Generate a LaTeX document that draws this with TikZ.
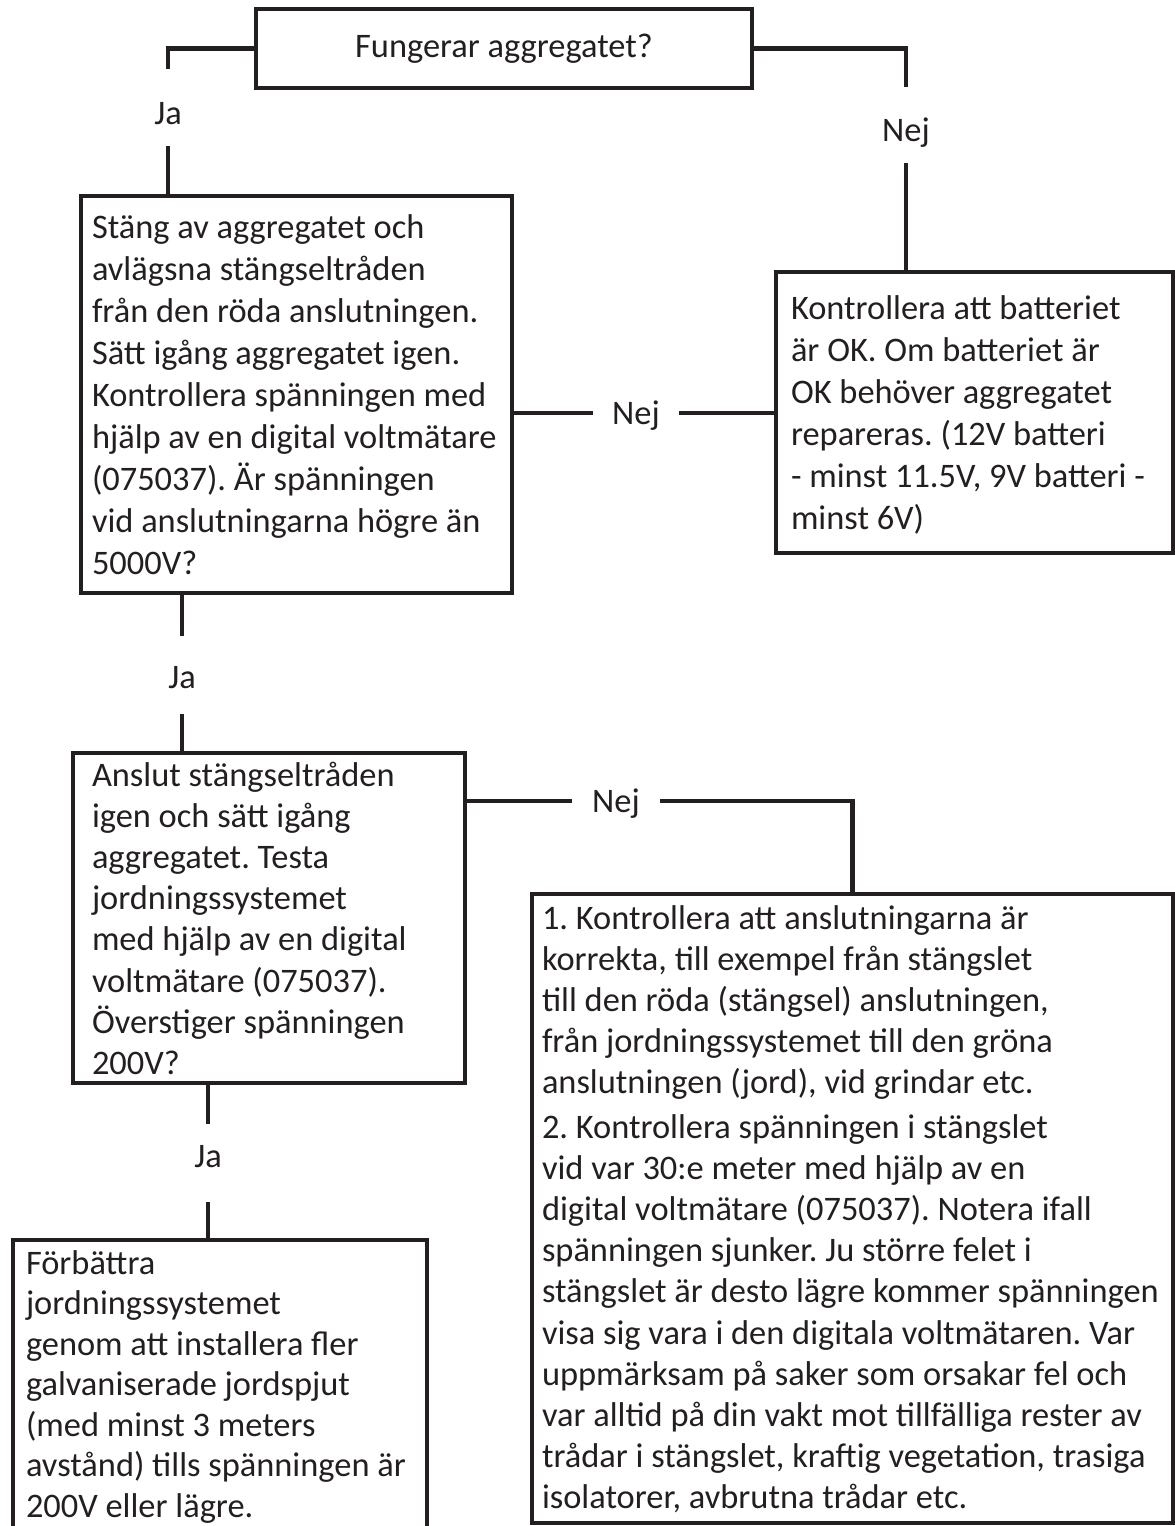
\documentclass[tikz,border=0pt]{standalone}
\usepackage{fontspec}
\setmainfont{Carlito}
\definecolor{ink}{HTML}{231F20}
\frenchspacing
\begin{document}
\frenchspacing
\begin{tikzpicture}[x=1pt,y=-1pt,
  every node/.style={text=ink},
  conn/.style={draw=ink,line width=4.6pt},
  box/.style={draw=ink,line width=4.8pt,inner sep=0pt,outer sep=0pt,anchor=north west},
  txt/.style={inner sep=0pt,outer sep=0pt,anchor=base west,align=left},
  vlab/.style={inner sep=0pt,outer sep=0pt,anchor=north,font=\fontsize{34.4}{42}\selectfont},
  hlab/.style={inner sep=0pt,outer sep=0pt,anchor=west,font=\fontsize{34.4}{42}\selectfont,text height=31pt,text depth=8.8pt}
]
\useasboundingbox (0,0) rectangle (1175,1526);
\clip (0,0) rectangle (1175,1526);

% boxes
\node[box,minimum width=496pt,minimum height=79pt,font=\fontsize{34.4}{42}\selectfont,anchor=center] (top) at (504,48.5) {Fungerar aggregatet?};
\node[box,minimum width=431pt,minimum height=397pt] (A) at (81,196) {};
\node[box,minimum width=397pt,minimum height=281pt] (B) at (776,272) {};
\node[box,minimum width=392pt,minimum height=330pt] (C) at (73,753) {};
\node[box,minimum width=641pt,minimum height=629pt] (D) at (532,894) {};
\node[box,minimum width=414pt,minimum height=320pt] (E) at (13,1240) {};

% texts
\node[txt] (tA) at (92,238) {\parbox[t]{700pt}{\fontsize{34.4}{42.1}\selectfont\raggedright
Stäng av aggregatet och\\
avlägsna stängseltråden\\
från den röda anslutningen.\\
Sätt igång aggregatet igen.\\
Kontrollera spänningen med\\
hjälp av en digital voltmätare\\
(075037). Är spänningen\\
vid anslutningarna högre än\\
5000V?}};
\node[txt] (tB) at (791,319) {\parbox[t]{700pt}{\fontsize{34.4}{42}\selectfont\raggedright
Kontrollera att batteriet\\
är OK. Om batteriet är\\
OK behöver aggregatet\\
repareras. (12V batteri\\
- minst 11.5V, 9V batteri -\\
minst 6V)}};
\node[txt] (tC) at (92,786) {\parbox[t]{700pt}{\fontsize{34.4}{41.2}\selectfont\raggedright
Anslut stängseltråden\\
igen och sätt igång\\
aggregatet. Testa\\
jordningssystemet\\
med hjälp av en digital\\
voltmätare (075037).\\
Överstiger spänningen\\
200V?}};
\node[txt] (tD) at (542,929) {\parbox[t]{700pt}{\fontsize{34.4}{41.2}\selectfont\raggedright
1. Kontrollera att anslutningarna är\\
korrekta, till exempel från stängslet\\
till den röda (stängsel) anslutningen,\\
från jordningssystemet till den gröna\\
anslutningen (jord), vid grindar etc.\\[3pt]
2. Kontrollera spänningen i stängslet\\
vid var 30:e meter med hjälp av en\\
digital voltmätare (075037). Notera ifall\\
spänningen sjunker. Ju större felet i\\
stängslet är desto lägre kommer spänningen\\
visa sig vara i den digitala voltmätaren. Var\\
uppmärksam på saker som orsakar fel och\\
var alltid på din vakt mot tillfälliga rester av\\
trådar i stängslet, kraftig vegetation, trasiga\\
isolatorer, avbrutna trådar etc.}};
\node[txt] (tE) at (26,1274) {\parbox[t]{700pt}{\fontsize{34.4}{40.5}\selectfont\raggedright
Förbättra\\
jordningssystemet\\
genom att installera fler\\
galvaniserade jordspjut\\
(med minst 3 meters\\
avstånd) tills spänningen är\\
200V eller lägre.}};

% labels
\node[vlab,text height=55.1pt,text depth=21.9pt] (ja1) at (168,69) {Ja};
\node[vlab,text height=54.1pt,text depth=21.9pt] (nej1) at (906,87) {Nej};
\node[hlab,minimum width=86pt] (nejAB) at (593,413) {Nej};
\node[vlab,text height=52.1pt,text depth=25.9pt] (ja2) at (182,636) {Ja};
\node[hlab,minimum width=88pt] (nejCD) at (572,801) {Nej};
\node[vlab,text height=43.1pt,text depth=34.9pt] (ja3) at (208,1124) {Ja};

% connectors
\draw[conn] (top.west) -| (ja1.north);
\draw[conn] (ja1.south) -- (ja1.south |- A.north);
\draw[conn] (top.east) -| (nej1.north);
\draw[conn] (nej1.south) -- (nej1.south |- B.north);
\draw[conn] (nejAB.west -| A.east) -- (nejAB.west);
\draw[conn] (nejAB.east) -- (nejAB.east -| B.west);
\draw[conn] (ja2.north |- A.south) -- (ja2.north);
\draw[conn] (ja2.south) -- (ja2.south |- C.north);
\draw[conn] (nejCD.west -| C.east) -- (nejCD.west);
\draw[conn] (nejCD.east) -| (D.north);
\draw[conn] (ja3.north |- C.south) -- (ja3.north);
\draw[conn] (ja3.south) -- (ja3.south |- E.north);
\end{tikzpicture}
\end{document}
